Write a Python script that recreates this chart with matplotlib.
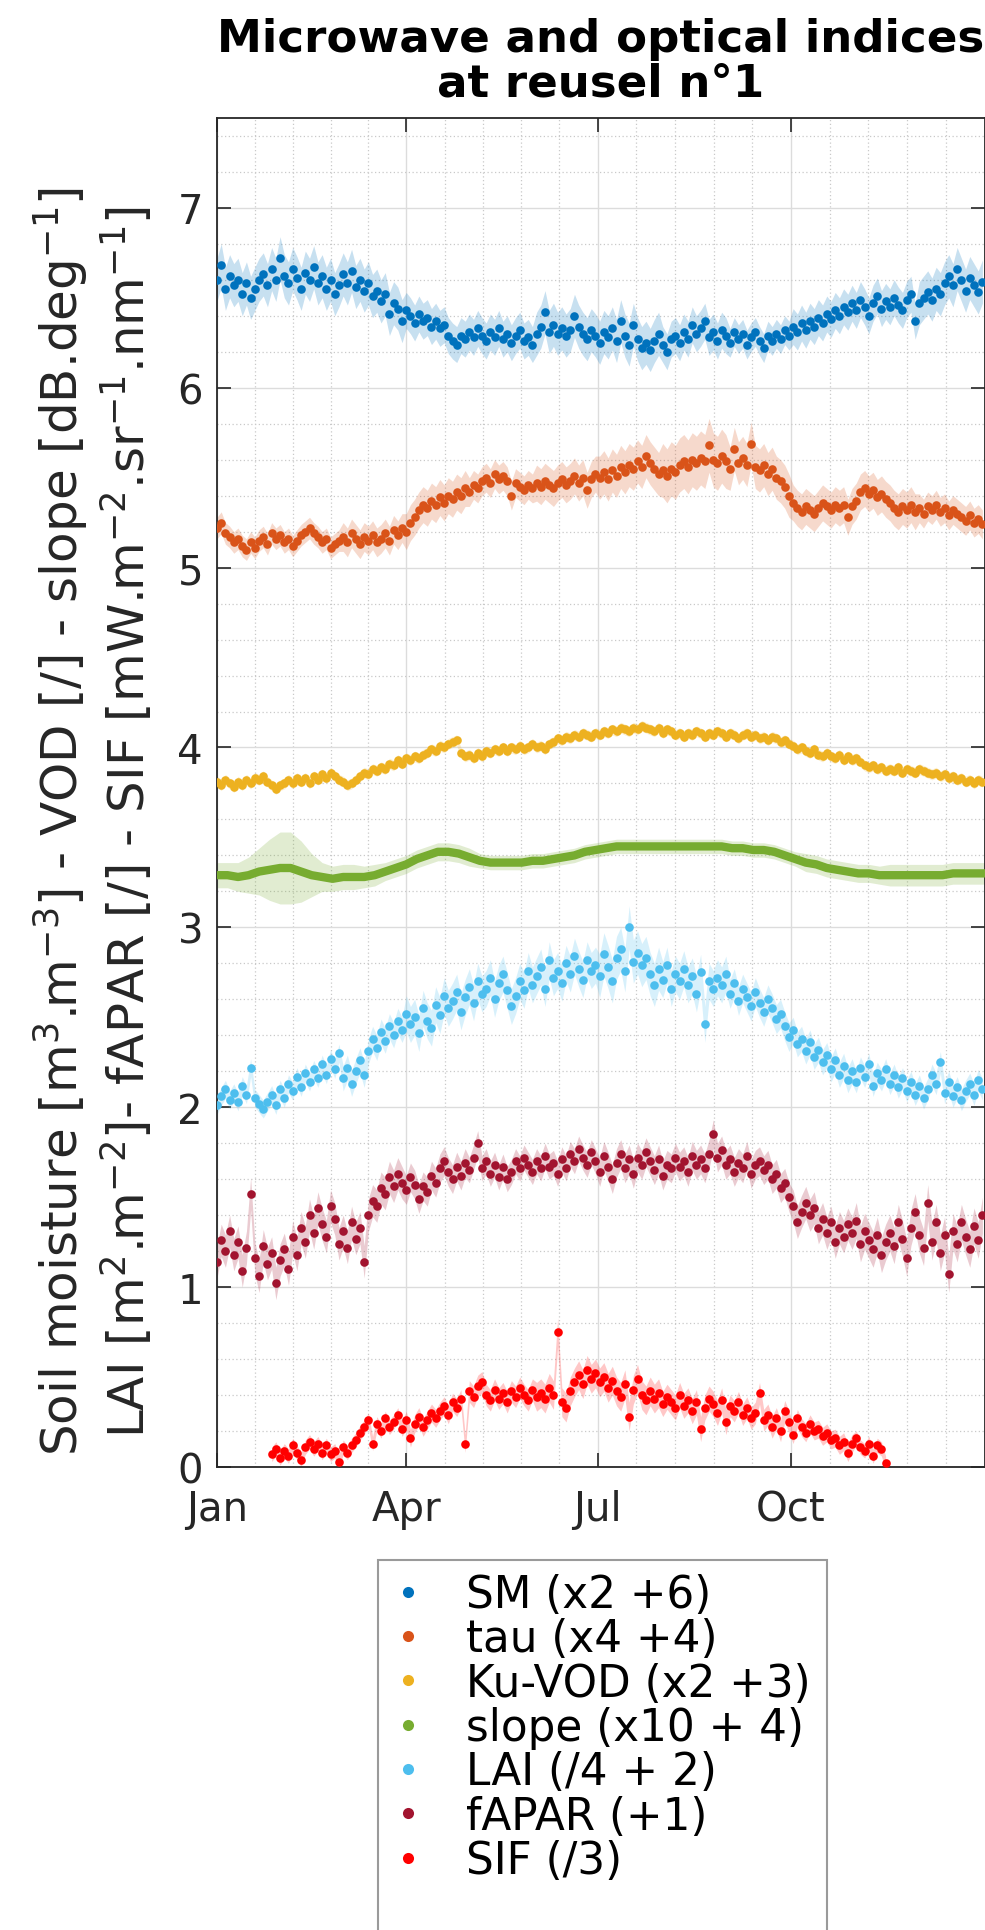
import numpy as np
import matplotlib
matplotlib.use('Agg')
import matplotlib.pyplot as plt
from matplotlib.lines import Line2D
from matplotlib.patches import Rectangle

# ---------------- data (displayed units, i.e. after legend transforms) ----------------
days2 = np.arange(0, 365, 2)          # day of year, every 2 days
sif_days = np.arange(26, 319, 2)      # SIF only available late Jan - mid Nov
slope_days = np.arange(0, 366, 5)

sm = [6.60, 6.68, 6.55, 6.62, 6.57, 6.60, 6.52, 6.58, 6.50, 6.55,
      6.60, 6.63, 6.57, 6.66, 6.60, 6.72, 6.62, 6.58, 6.66, 6.61,
      6.55, 6.64, 6.60, 6.67, 6.58, 6.62, 6.55, 6.60, 6.52, 6.57,
      6.63, 6.58, 6.65, 6.56, 6.60, 6.54, 6.58, 6.51, 6.54, 6.48,
      6.52, 6.41, 6.47, 6.44, 6.37, 6.43, 6.40, 6.36, 6.41, 6.37,
      6.39, 6.34, 6.37, 6.33, 6.35, 6.29, 6.26, 6.24, 6.29, 6.27,
      6.31, 6.28, 6.33, 6.29, 6.26, 6.31, 6.28, 6.33, 6.27, 6.30,
      6.25, 6.29, 6.32, 6.26, 6.28, 6.24, 6.30, 6.34, 6.42, 6.31,
      6.35, 6.30, 6.33, 6.29, 6.32, 6.40, 6.34, 6.30, 6.27, 6.32,
      6.29, 6.25, 6.31, 6.28, 6.33, 6.26, 6.37, 6.29, 6.24, 6.35,
      6.27, 6.22, 6.25, 6.21, 6.26, 6.30, 6.24, 6.20, 6.27, 6.29,
      6.25, 6.31, 6.27, 6.35, 6.30, 6.33, 6.37, 6.28, 6.31, 6.26,
      6.32, 6.29, 6.25, 6.31, 6.27, 6.30, 6.24, 6.28, 6.31, 6.26,
      6.22, 6.29, 6.26, 6.30, 6.27, 6.32, 6.29, 6.34, 6.31, 6.36,
      6.32, 6.37, 6.34, 6.39, 6.36, 6.41, 6.38, 6.43, 6.40, 6.45,
      6.42, 6.47, 6.43, 6.49, 6.45, 6.40, 6.47, 6.51, 6.44, 6.48,
      6.45, 6.50, 6.46, 6.43, 6.49, 6.52, 6.37, 6.47, 6.50, 6.53,
      6.49, 6.55, 6.52, 6.58, 6.62, 6.57, 6.66, 6.60, 6.54, 6.61,
      6.57, 6.53, 6.59]

tau = [5.22, 5.25, 5.19, 5.17, 5.14, 5.16, 5.12, 5.10, 5.14, 5.11,
       5.15, 5.17, 5.13, 5.19, 5.16, 5.18, 5.14, 5.16, 5.12, 5.15,
       5.18, 5.20, 5.22, 5.19, 5.17, 5.14, 5.16, 5.11, 5.13, 5.15,
       5.17, 5.14, 5.19, 5.16, 5.13, 5.17, 5.15, 5.18, 5.14, 5.16,
       5.19, 5.15, 5.21, 5.18, 5.22, 5.20, 5.25, 5.28, 5.32, 5.35,
       5.33, 5.37, 5.35, 5.39, 5.36, 5.40, 5.38, 5.42, 5.40, 5.44,
       5.42, 5.46, 5.44, 5.48, 5.50, 5.47, 5.52, 5.49, 5.51, 5.48,
       5.40, 5.47, 5.45, 5.43, 5.46, 5.44, 5.47, 5.45, 5.48, 5.46,
       5.44, 5.47, 5.49, 5.46, 5.48, 5.51, 5.47, 5.50, 5.43, 5.49,
       5.52, 5.50, 5.53, 5.49, 5.54, 5.51, 5.56, 5.53, 5.57, 5.55,
       5.59, 5.56, 5.62, 5.58, 5.55, 5.52, 5.54, 5.51, 5.55, 5.53,
       5.57, 5.59, 5.56, 5.60, 5.58, 5.61, 5.59, 5.68, 5.60, 5.58,
       5.62, 5.59, 5.55, 5.66, 5.58, 5.61, 5.57, 5.69, 5.56, 5.54,
       5.57, 5.52, 5.55, 5.50, 5.48, 5.45, 5.40, 5.36, 5.33, 5.31,
       5.34, 5.32, 5.30, 5.33, 5.36, 5.34, 5.32, 5.35, 5.33, 5.35,
       5.28, 5.34, 5.37, 5.42, 5.44, 5.41, 5.43, 5.39, 5.41, 5.38,
       5.36, 5.33, 5.31, 5.34, 5.32, 5.35, 5.31, 5.33, 5.30, 5.34,
       5.32, 5.35, 5.31, 5.33, 5.29, 5.32, 5.30, 5.28, 5.26, 5.29,
       5.25, 5.27, 5.24]

kuvod = [3.81, 3.79, 3.82, 3.80, 3.78, 3.81, 3.79, 3.82, 3.80, 3.83,
         3.82, 3.84, 3.81, 3.79, 3.77, 3.79, 3.80, 3.82, 3.80, 3.83,
         3.81, 3.83, 3.80, 3.84, 3.82, 3.85, 3.83, 3.86, 3.84, 3.82,
         3.81, 3.79, 3.80, 3.82, 3.84, 3.86, 3.85, 3.88, 3.87, 3.89,
         3.88, 3.91, 3.90, 3.93, 3.91, 3.94, 3.93, 3.95, 3.94, 3.96,
         3.97, 3.99, 3.98, 4.01, 4.00, 4.02, 4.03, 4.04, 3.97, 3.95,
         3.96, 3.94, 3.97, 3.95, 3.98, 3.97, 3.99, 3.98, 4.00, 3.98,
         4.00, 3.99, 4.01, 3.99, 4.00, 4.02, 4.00, 4.01, 3.99, 4.02,
         4.03, 4.05, 4.04, 4.06, 4.05, 4.07, 4.06, 4.08, 4.07, 4.06,
         4.08, 4.07, 4.09, 4.08, 4.10, 4.09, 4.11, 4.10, 4.09, 4.11,
         4.10, 4.12, 4.11, 4.10, 4.09, 4.11, 4.08, 4.10, 4.09, 4.07,
         4.08, 4.06, 4.08, 4.07, 4.09, 4.08, 4.06, 4.08, 4.07, 4.09,
         4.08, 4.06, 4.08, 4.07, 4.05, 4.07, 4.08, 4.06, 4.07, 4.05,
         4.06, 4.04, 4.06, 4.05, 4.03, 4.04, 4.02, 4.01, 3.99, 4.00,
         3.98, 3.97, 3.99, 3.96, 3.95, 3.97, 3.95, 3.94, 3.96, 3.93,
         3.95, 3.93, 3.94, 3.92, 3.90, 3.89, 3.90, 3.88, 3.89, 3.87,
         3.88, 3.87, 3.89, 3.86, 3.88, 3.87, 3.86, 3.88, 3.87, 3.86,
         3.85, 3.86, 3.84, 3.85, 3.83, 3.84, 3.82, 3.83, 3.81, 3.82,
         3.80, 3.82, 3.81]

slope = [3.29, 3.29, 3.28, 3.29, 3.31, 3.32, 3.33, 3.33, 3.31, 3.29,
         3.28, 3.27, 3.28, 3.28, 3.28, 3.29, 3.31, 3.33, 3.35, 3.38,
         3.40, 3.42, 3.42, 3.41, 3.39, 3.37, 3.36, 3.36, 3.36, 3.36,
         3.37, 3.37, 3.38, 3.39, 3.40, 3.42, 3.43, 3.44, 3.45, 3.45,
         3.45, 3.45, 3.45, 3.45, 3.45, 3.45, 3.45, 3.45, 3.45, 3.44,
         3.44, 3.43, 3.43, 3.42, 3.40, 3.38, 3.36, 3.35, 3.33, 3.32,
         3.31, 3.30, 3.30, 3.29, 3.29, 3.29, 3.29, 3.29, 3.29, 3.29,
         3.30, 3.30, 3.30, 3.30]
slope_err = [0.07, 0.07, 0.08, 0.10, 0.13, 0.17, 0.20, 0.20, 0.17, 0.12,
             0.08, 0.07, 0.07, 0.07, 0.06, 0.06, 0.05, 0.05, 0.05, 0.05,
             0.05, 0.05, 0.05, 0.05, 0.05, 0.04, 0.04, 0.04, 0.04, 0.04,
             0.04, 0.04, 0.04, 0.04, 0.04, 0.04, 0.04, 0.04, 0.04, 0.04,
             0.04, 0.04, 0.04, 0.04, 0.04, 0.04, 0.04, 0.04, 0.04, 0.04,
             0.04, 0.04, 0.04, 0.04, 0.04, 0.04, 0.05, 0.05, 0.05, 0.05,
             0.05, 0.05, 0.05, 0.05, 0.06, 0.06, 0.06, 0.06, 0.06, 0.06,
             0.06, 0.06, 0.06, 0.06]

lai = [2.01, 2.06, 2.10, 2.04, 2.08, 2.03, 2.12, 2.07, 2.22, 2.05,
       2.02, 1.99, 2.03, 2.07, 2.01, 2.10, 2.05, 2.13, 2.09, 2.17,
       2.11, 2.19, 2.14, 2.21, 2.16, 2.24, 2.18, 2.27, 2.21, 2.30,
       2.16, 2.22, 2.13, 2.20, 2.26, 2.18, 2.31, 2.38, 2.33, 2.42,
       2.37, 2.45, 2.40, 2.48, 2.43, 2.52, 2.46, 2.50, 2.41, 2.55,
       2.48, 2.44, 2.57, 2.51, 2.62, 2.55, 2.59, 2.64, 2.53, 2.61,
       2.67, 2.58, 2.70, 2.63, 2.66, 2.72, 2.60, 2.69, 2.74, 2.65,
       2.56, 2.62, 2.70, 2.65, 2.76, 2.68, 2.73, 2.78, 2.66, 2.82,
       2.72, 2.76, 2.69, 2.80, 2.74, 2.84, 2.77, 2.71, 2.82, 2.76,
       2.79, 2.73, 2.85, 2.78, 2.70, 2.83, 2.88, 2.76, 3.00, 2.81,
       2.86, 2.79, 2.83, 2.74, 2.68, 2.77, 2.71, 2.79, 2.66, 2.74,
       2.70, 2.77, 2.68, 2.73, 2.63, 2.75, 2.46, 2.70, 2.66, 2.72,
       2.68, 2.74, 2.63, 2.69, 2.59, 2.66, 2.61, 2.56, 2.64, 2.58,
       2.53, 2.60, 2.55, 2.49, 2.52, 2.45, 2.39, 2.43, 2.35, 2.38,
       2.31, 2.36, 2.28, 2.32, 2.25, 2.29, 2.21, 2.26, 2.18, 2.23,
       2.15, 2.20, 2.14, 2.22, 2.17, 2.24, 2.12, 2.19, 2.15, 2.21,
       2.13, 2.18, 2.11, 2.16, 2.09, 2.14, 2.07, 2.12, 2.05, 2.10,
       2.18, 2.13, 2.25, 2.08, 2.14, 2.06, 2.11, 2.04, 2.09, 2.13,
       2.07, 2.15, 2.10]

fapar = [1.14, 1.26, 1.20, 1.31, 1.18, 1.25, 1.09, 1.22, 1.52, 1.16,
         1.06, 1.23, 1.13, 1.19, 1.02, 1.15, 1.21, 1.10, 1.28, 1.18,
         1.33, 1.25, 1.40, 1.30, 1.44, 1.35, 1.28, 1.45, 1.38, 1.24,
         1.31, 1.22, 1.36, 1.27, 1.33, 1.14, 1.40, 1.48, 1.45, 1.55,
         1.52, 1.61, 1.56, 1.63, 1.58, 1.54, 1.61, 1.57, 1.49, 1.56,
         1.53, 1.62, 1.58, 1.66, 1.70, 1.64, 1.60, 1.67, 1.62, 1.69,
         1.65, 1.72, 1.80, 1.66, 1.70, 1.63, 1.68, 1.61, 1.67, 1.60,
         1.64, 1.70, 1.66, 1.72, 1.68, 1.64, 1.70, 1.66, 1.73, 1.67,
         1.69, 1.63, 1.71, 1.66, 1.74, 1.70, 1.77, 1.72, 1.68, 1.75,
         1.70, 1.64, 1.73, 1.67, 1.60, 1.69, 1.74, 1.66, 1.71, 1.63,
         1.72, 1.68, 1.75, 1.70, 1.65, 1.71, 1.62, 1.68, 1.66, 1.72,
         1.67, 1.70, 1.64, 1.73, 1.68, 1.71, 1.66, 1.74, 1.85, 1.72,
         1.76, 1.68, 1.71, 1.64, 1.69, 1.66, 1.73, 1.63, 1.68, 1.70,
         1.65, 1.68, 1.60, 1.63, 1.55, 1.58, 1.50, 1.45, 1.36, 1.42,
         1.47, 1.40, 1.44, 1.33, 1.38, 1.30, 1.36, 1.25, 1.33, 1.28,
         1.35, 1.30, 1.37, 1.24, 1.31, 1.26, 1.21, 1.29, 1.18, 1.25,
         1.30, 1.23, 1.36, 1.27, 1.16, 1.33, 1.42, 1.29, 1.22, 1.47,
         1.25, 1.36, 1.19, 1.29, 1.07, 1.31, 1.24, 1.36, 1.28, 1.21,
         1.34, 1.26, 1.40]

sif = [0.07, 0.10, 0.05, 0.09, 0.06, 0.12, 0.08, 0.04, 0.11, 0.14,
       0.10, 0.13, 0.08, 0.12, 0.07, 0.09, 0.03, 0.11, 0.08, 0.12,
       0.15, 0.19, 0.22, 0.26, 0.13, 0.24, 0.20, 0.27, 0.22, 0.25,
       0.29, 0.21, 0.26, 0.16, 0.24, 0.28, 0.22, 0.26, 0.30, 0.27,
       0.31, 0.34, 0.29, 0.36, 0.33, 0.38, 0.13, 0.42, 0.39, 0.45,
       0.47, 0.40, 0.37, 0.43, 0.38, 0.41, 0.36, 0.42, 0.39, 0.44,
       0.40, 0.37, 0.43, 0.39, 0.41, 0.38, 0.44, 0.40, 0.75, 0.36,
       0.33, 0.42, 0.47, 0.51, 0.46, 0.54, 0.49, 0.52, 0.47, 0.50,
       0.44, 0.48, 0.42, 0.39, 0.46, 0.28, 0.43, 0.49, 0.40, 0.37,
       0.42, 0.38, 0.41, 0.35, 0.39, 0.36, 0.33, 0.40, 0.34, 0.37,
       0.31, 0.36, 0.21, 0.33, 0.38, 0.35, 0.30, 0.37, 0.25, 0.34,
       0.31, 0.36, 0.29, 0.33, 0.27, 0.30, 0.41, 0.26, 0.29, 0.22,
       0.27, 0.20, 0.31, 0.25, 0.18, 0.27, 0.22, 0.19, 0.24, 0.20,
       0.21, 0.17, 0.19, 0.15, 0.16, 0.12, 0.14, 0.08, 0.13, 0.16,
       0.11, 0.09, 0.13, 0.06, 0.12, 0.10, 0.02]

# monthly half-width of the uncertainty envelope (displayed units)
sm_err    = [0.12, 0.12, 0.12, 0.10, 0.10, 0.12, 0.12, 0.10, 0.08, 0.10, 0.10, 0.12]
tau_err   = [0.06, 0.06, 0.08, 0.10, 0.08, 0.10, 0.12, 0.15, 0.12, 0.10, 0.10, 0.08]
ku_err    = [0.03, 0.03, 0.03, 0.03, 0.03, 0.03, 0.03, 0.03, 0.03, 0.03, 0.03, 0.03]
lai_err   = [0.05, 0.05, 0.07, 0.10, 0.10, 0.10, 0.12, 0.10, 0.08, 0.07, 0.06, 0.06]
fapar_err = [0.09, 0.09, 0.09, 0.08, 0.07, 0.07, 0.08, 0.08, 0.08, 0.09, 0.10, 0.10]
sif_err   = [0.04, 0.04, 0.04, 0.05, 0.06, 0.08, 0.08, 0.07, 0.06, 0.05, 0.04, 0.04]

labels = ['SM (x2 +6)', 'tau (x4 +4)', 'Ku-VOD (x2 +3)', 'slope (x10 + 4)',
          'LAI (/4 + 2)', 'fAPAR (+1)', 'SIF (/3)']
colors = ['#0072BD', '#D95319', '#EDB120', '#77AC30', '#4DBEEE', '#A2142F', '#FF0000']

month_ticks = [0, 90, 181, 273]
month_labels = ['Jan', 'Apr', 'Jul', 'Oct']
month_starts = [0, 31, 59, 90, 120, 151, 181, 212, 243, 273, 304, 334]

# ---------------- figure ----------------
plt.rcParams['font.family'] = ['DejaVu Sans']
fig = plt.figure(figsize=(9.85, 19.31), dpi=100)
ax = fig.add_axes([0.2203, 0.2398, 0.7792, 0.6986])

def month_of(d):
    return np.searchsorted(month_starts, d, side='right') - 1

def draw_points(days, vals, err_m, color, alpha=0.22):
    days = np.asarray(days); vals = np.asarray(vals)
    e = np.asarray(err_m)[month_of(days)]
    ax.fill_between(days, vals - e, vals + e, color=color, alpha=alpha,
                    linewidth=0, zorder=1)
    ax.plot(days, vals, 'o', ms=6.2, color=color, mec='none', zorder=3)

draw_points(days2, sm, sm_err, colors[0])
draw_points(days2, tau, tau_err, colors[1])
draw_points(days2, kuvod, ku_err, colors[2])
# slope: smooth line with envelope
sd = np.asarray(slope_days); sv = np.asarray(slope); se = np.asarray(slope_err)
ax.fill_between(sd, sv - se, sv + se, color=colors[3], alpha=0.22, linewidth=0, zorder=1)
ax.plot(sd, sv, '-', lw=6, color=colors[3], zorder=3, solid_capstyle='round')
draw_points(days2, lai, lai_err, colors[4])
draw_points(days2, fapar, fapar_err, colors[5])
draw_points(sif_days, sif, sif_err, colors[6])

ax.set_xlim(0, 365)
ax.set_ylim(0, 7.5)
ax.set_xticks(month_ticks)
ax.set_xticklabels(month_labels)
ax.set_yticks(range(0, 8))
minor_x = []
bounds = month_ticks + [365]
for a, b in zip(bounds[:-1], bounds[1:]):
    minor_x += list(np.linspace(a, b, 6)[1:-1])
ax.set_xticks(minor_x, minor=True)
ax.set_yticks(np.arange(0, 7.51, 0.2), minor=True)

ax.grid(True, which='major', color='#dcdcdc', lw=1.0, ls='-', zorder=0)
ax.grid(True, which='minor', color='#c9c9c9', lw=0.9, ls=(0, (1, 2)), zorder=0)
ax.set_axisbelow(True)

ax.tick_params(which='major', direction='in', length=10, width=1.2, top=True, right=True,
               labelsize=29, colors='#262626', pad=10)
ax.tick_params(axis='x', which='major', pad=16)
ax.tick_params(which='minor', length=0, top=True, right=True)
for s in ax.spines.values():
    s.set_color('#262626'); s.set_linewidth(1.3)

ax.set_title('Microwave and optical indices\nat reusel n°1', fontsize=32.5,
             fontweight='bold', pad=16, linespacing=1.05)

ylab = ("Soil moisture [m$^3$.m$^{-3}$] - VOD [/] - slope [dB.deg$^{-1}$]\n"
        "LAI [m$^2$.m$^{-2}$]- fAPAR [/] - SIF [mW.m$^{-2}$.sr$^{-1}$.nm$^{-1}$]")
fig.text(0.0944, 0.5743, ylab, rotation=90, ha='center', va='center',
         fontsize=36, color='#262626', multialignment='center', linespacing=1.2)

# legend with frame drawn as a figure rectangle running past the bottom edge
handles = [Line2D([], [], ls='none', marker='o', ms=8, color=c, mec='none') for c in colors]
fig.patches.append(Rectangle((378 / 985, -0.05), (827 - 378) / 985, 1 - 1561 / 1931 + 0.05,
                             transform=fig.transFigure, facecolor='white',
                             edgecolor='#9a9a9a', lw=1.5, zorder=0))
leg = fig.legend(handles, labels, loc='upper left',
                 bbox_to_anchor=(378 / 985, 1 - 1561 / 1931), frameon=False,
                 fontsize=31.5, handlelength=0.75, handletextpad=0.97,
                 labelspacing=0.03, borderpad=0.3, borderaxespad=0)

fig.savefig('out.png', dpi=100)
